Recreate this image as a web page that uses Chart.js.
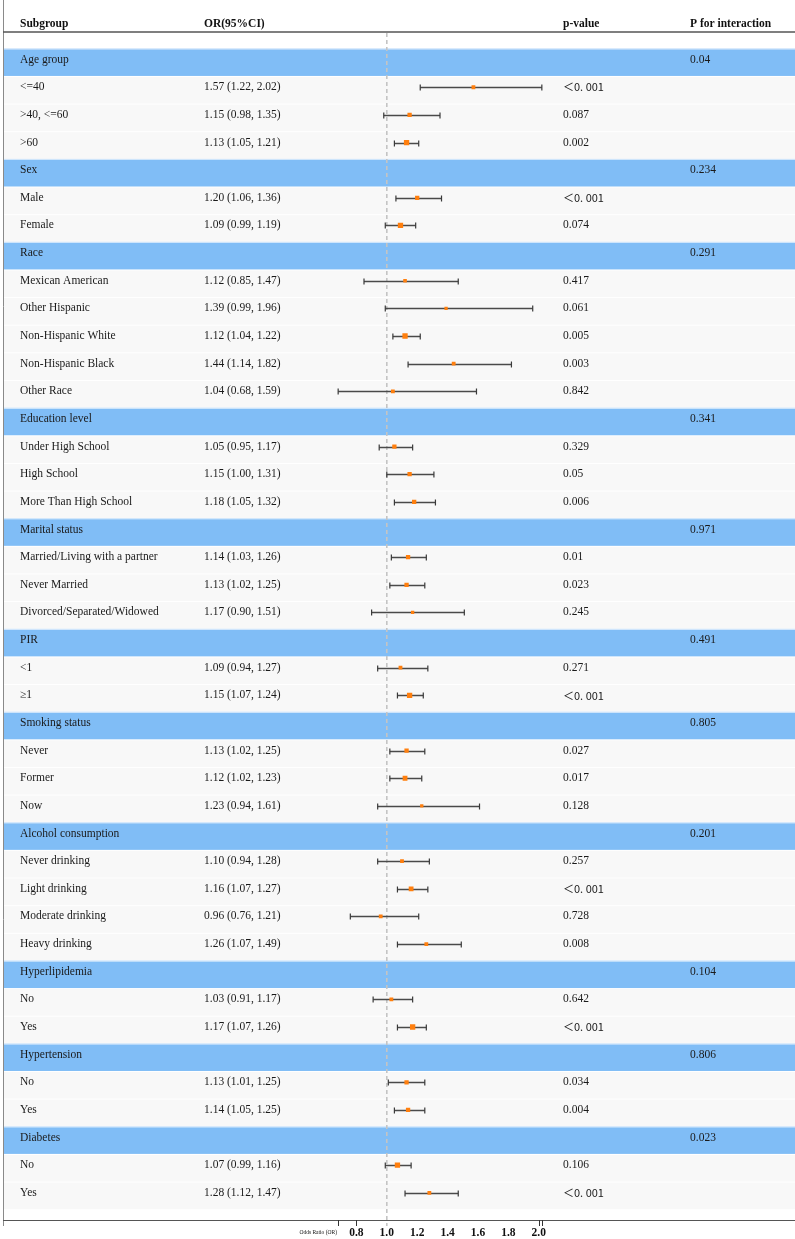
<!DOCTYPE html>
<html>
<head>
<meta charset="utf-8">
<script src="https://cdn.jsdelivr.net/npm/chart.js@4.4.1/dist/chart.umd.min.js"></script>
<style>
html,body{margin:0;padding:0;background:#fff;}
#wrap{width:795px;height:1239px;position:relative;}
</style>
</head>
<body>
<div id="wrap"><canvas id="c" width="795" height="1239"></canvas></div>
<script>
// ---------- DATA ----------
const subgroups = ["Age group","<=40",">40, <=60",">60","Sex","Male","Female","Race","Mexican American","Other Hispanic","Non-Hispanic White","Non-Hispanic Black","Other Race","Education level","Under High School","High School","More Than High School","Marital status","Married/Living with a partner","Never Married","Divorced/Separated/Widowed","PIR","<1","≥1","Smoking status","Never","Former","Now","Alcohol consumption","Never drinking","Light drinking","Moderate drinking","Heavy drinking","Hyperlipidemia","No","Yes","Hypertension","No","Yes","Diabetes","No","Yes"];
const oddsRatio = [null,1.57,1.15,1.13,null,1.20,1.09,null,1.12,1.39,1.12,1.44,1.04,null,1.05,1.15,1.18,null,1.14,1.13,1.17,null,1.09,1.15,null,1.13,1.12,1.23,null,1.10,1.16,0.96,1.26,null,1.03,1.17,null,1.13,1.14,null,1.07,1.28];
const ciLower = [null,1.22,0.98,1.05,null,1.06,0.99,null,0.85,0.99,1.04,1.14,0.68,null,0.95,1.00,1.05,null,1.03,1.02,0.90,null,0.94,1.07,null,1.02,1.02,0.94,null,0.94,1.07,0.76,1.07,null,0.91,1.07,null,1.01,1.05,null,0.99,1.12];
const ciUpper = [null,2.02,1.35,1.21,null,1.36,1.19,null,1.47,1.96,1.22,1.82,1.59,null,1.17,1.31,1.32,null,1.26,1.25,1.51,null,1.27,1.24,null,1.25,1.23,1.61,null,1.28,1.27,1.21,1.49,null,1.17,1.26,null,1.25,1.25,null,1.16,1.47];
const pValues = ["","＜0. 001","0.087","0.002","","＜0. 001","0.074","","0.417","0.061","0.005","0.003","0.842","","0.329","0.05","0.006","","0.01","0.023","0.245","","0.271","＜0. 001","","0.027","0.017","0.128","","0.257","＜0. 001","0.728","0.008","","0.642","＜0. 001","","0.034","0.004","","0.106","＜0. 001"];
const pInteraction = ["0.04","","","","0.234","","","0.291","","","","","","0.341","","","","0.971","","","","0.491","","","0.805","","","","0.201","","","","","0.104","","","0.806","","","0.023","",""];
const weights = [0,1.5,2,3,0,2,3,0,1.3,1,3,1.5,1.5,0,2,2,2,0,2,2,1,0,1.5,3,0,2,2.5,1,0,1.5,2.5,1.5,1.5,0,1.5,3,0,2,2,0,3,1.5];
const xTickValues = [0.8,1.0,1.2,1.4,1.6,1.8,2.0];
const headers = ["Subgroup","OR(95%CI)","p-value","P for interaction"];
const refValue = 1.0;
const xMin = 0.6, xMax = 2.1;

// ---------- BUILD ----------
const nRows = subgroups.length;
const points = [];
const radii = [];
oddsRatio.forEach((v,i)=>{ if(v!==null){ points.push({x:v,y:i}); radii.push((2.3+weights[i])/Math.SQRT2); } });

const serif = '"Liberation Serif","Times New Roman",serif';
const COL = {sub:20, or:204, p:563, pint:690};
const BLUE = '#80bdf6';
const ROWBG = '#f8f8f8';
const BAND_OFFSET = 3; // row backgrounds sit slightly below the content line

const forestPlugin = {
  id:'forest',
  beforeDraw(chart){
    const ctx = chart.ctx, ys = chart.scales.y, xs = chart.scales.x;
    ctx.save();
    ctx.fillStyle='#fff'; ctx.fillRect(0,0,chart.width,chart.height);
    const half = Math.abs(ys.getPixelForValue(1)-ys.getPixelForValue(0))/2;
    for(let i=0;i<nRows;i++){
      const yc = ys.getPixelForValue(i)+BAND_OFFSET;
      const grp = oddsRatio[i]===null;
      ctx.fillStyle = grp ? BLUE : ROWBG;
      ctx.fillRect(3, yc-half+0.5, 792, 2*half-1);
      if(grp){ ctx.fillStyle='#c9e2fb'; ctx.fillRect(3,yc-half-0.5,792,1); }
    }
    // reference dashed line
    const xr = xs.getPixelForValue(refValue);
    ctx.strokeStyle='#c4c4c4'; ctx.lineWidth=1.6; ctx.setLineDash([4,3]);
    ctx.beginPath(); ctx.moveTo(xr,33); ctx.lineTo(xr,1226); ctx.stroke();
    ctx.setLineDash([]);
    ctx.restore();
  },
  beforeDatasetsDraw(chart){
    const ctx = chart.ctx, ys = chart.scales.y, xs = chart.scales.x;
    ctx.save();
    for(let i=0;i<nRows;i++){
      if(oddsRatio[i]===null) continue;
      const yc = Math.round(ys.getPixelForValue(i))+0.5;
      const x1 = xs.getPixelForValue(ciLower[i]), x2 = xs.getPixelForValue(ciUpper[i]);
      ctx.strokeStyle='#4a4a4a'; ctx.lineWidth=1.5;
      ctx.beginPath(); ctx.moveTo(x1,yc); ctx.lineTo(x2,yc); ctx.stroke();
      ctx.strokeStyle='#3a3a3a'; ctx.lineWidth=1.2;
      ctx.beginPath();
      ctx.moveTo(x1,yc-3); ctx.lineTo(x1,yc+3);
      ctx.moveTo(x2,yc-3); ctx.lineTo(x2,yc+3);
      ctx.stroke();
    }
    ctx.restore();
  },
  afterDraw(chart){
    const ctx = chart.ctx, ys = chart.scales.y, xs = chart.scales.x;
    ctx.save();
    // left border
    ctx.strokeStyle='#8a8a8a'; ctx.lineWidth=1;
    ctx.beginPath(); ctx.moveTo(3.5,0); ctx.lineTo(3.5,1226); ctx.stroke();
    // header
    ctx.fillStyle='#111'; ctx.textBaseline='middle'; ctx.textAlign='left';
    ctx.font='bold 11.5px '+serif;
    ctx.fillText(headers[0],COL.sub,24);
    ctx.fillText(headers[1],COL.or,24);
    ctx.fillText(headers[2],COL.p,24);
    ctx.fillText(headers[3],COL.pint,24);
    ctx.strokeStyle='#555'; ctx.lineWidth=1.5;
    ctx.beginPath(); ctx.moveTo(3,32); ctx.lineTo(795,32); ctx.stroke();
    // rows
    for(let i=0;i<nRows;i++){
      const yc = ys.getPixelForValue(i);
      ctx.fillStyle='#1a1a1a';
      ctx.font='11.5px '+serif;
      ctx.fillText(subgroups[i],COL.sub,yc);
      if(oddsRatio[i]!==null){
        const t = oddsRatio[i].toFixed(2)+' ('+ciLower[i].toFixed(2)+', '+ciUpper[i].toFixed(2)+')';
        ctx.fillText(t,COL.or,yc);
      }
      if(pValues[i]){
        if(pValues[i].indexOf('＜')===0){
          ctx.font='11px "Noto Sans CJK SC","DejaVu Sans",sans-serif';
        }
        ctx.fillText(pValues[i],COL.p,yc);
        ctx.font='11.5px '+serif;
      }
      if(pInteraction[i]) ctx.fillText(pInteraction[i],COL.pint,yc);
    }
    // x axis
    ctx.strokeStyle='#555'; ctx.lineWidth=1.2;
    ctx.beginPath(); ctx.moveTo(3,1220.5); ctx.lineTo(795,1220.5); ctx.stroke();
    ctx.strokeStyle='#333'; ctx.lineWidth=1;
    ctx.beginPath();
    [0.68,0.8,2.0,2.02].forEach(v=>{const x=Math.round(xs.getPixelForValue(v))+0.5; ctx.moveTo(x,1220); ctx.lineTo(x,1226);});
    ctx.stroke();
    ctx.fillStyle='#111'; ctx.textAlign='center';
    ctx.font='bold 11.5px '+serif;
    xTickValues.forEach(v=>{ ctx.fillText(v.toFixed(1), xs.getPixelForValue(v), 1233); });
    ctx.font='5.5px '+serif; ctx.textAlign='right';
    ctx.fillText('Odds Ratio (OR)', 337, 1233);
    ctx.restore();
  }
};

new Chart(document.getElementById('c'),{
  type:'scatter',
  data:{datasets:[{
    data:points,
    pointStyle:'rect',
    pointRadius:radii,
    pointHoverRadius:radii,
    backgroundColor:'#ff7f0e',
    borderWidth:0
  }]},
  options:{
    responsive:false,
    animation:false,
    events:[],
    layout:{padding:{left:386.8-0.4*152, right:795-(386.8+1.1*152), top:48.8-BAND_OFFSET, bottom:1239-(48.8-BAND_OFFSET+42*27.64)}},
    plugins:{legend:{display:false},tooltip:{enabled:false}},
    scales:{
      x:{type:'linear',min:xMin,max:xMax,display:false},
      y:{type:'linear',min:-0.5,max:nRows-0.5,reverse:true,display:false}
    }
  },
  plugins:[forestPlugin]
});
</script>
</body>
</html>
